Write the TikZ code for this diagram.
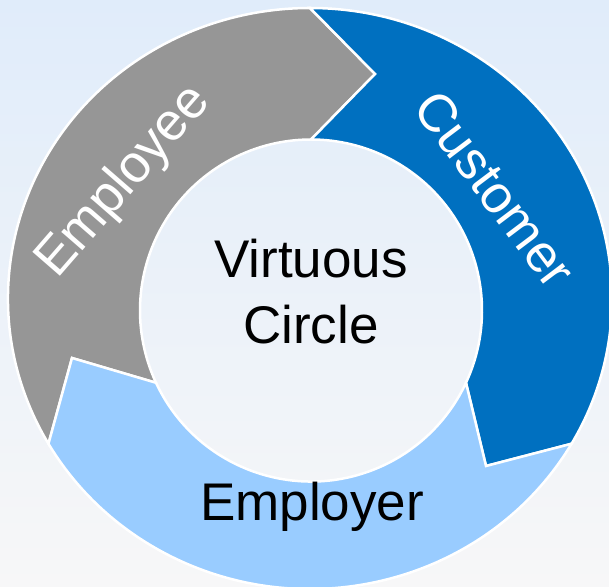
\documentclass[tikz,border=0pt]{standalone}
\usepackage{fontspec}
\setmainfont{Liberation Sans}
\usepackage{tikz}
\usetikzlibrary{calc}

\definecolor{cycgray}{RGB}{150,150,150}
\definecolor{cycblue}{RGB}{0,112,192}
\definecolor{cyclight}{RGB}{153,204,255}
\definecolor{bgtop}{RGB}{224,236,250}
\definecolor{bgbot}{RGB}{247,247,248}

\begin{document}
\begin{tikzpicture}[x=1pt,y=1pt,
    segment/.style={draw=white,line width=2.5pt,line join=miter},
    word/.style={font=\fontsize{53}{66}\selectfont,inner sep=0pt}]
  \useasboundingbox (0,0) rectangle (609,586);
  \shade[top color=bgtop,bottom color=bgbot] (0,0) rectangle (609,586);

  % centres of the ring (outer edge is a bit flattened)
  \coordinate (o) at (310,287.5);
  \coordinate (i) at (311,275.5);
  % arrow tips
  \coordinate (graytip) at (375,512);
  \coordinate (bluetip) at (486,120);
  \coordinate (lighttip) at (72,228);

  \filldraw[segment,fill=cycgray] ($(o)+(210:302 and 290.5)$)
    arc[start angle=210,end angle=90,x radius=302,y radius=290.5]
    -- (graytip) -- ($(i)+(90:171)$)
    arc[start angle=90,end angle=205,radius=171]
    -- (lighttip) -- cycle;
  \filldraw[segment,fill=cycblue] ($(o)+(90:302 and 290.5)$)
    arc[start angle=90,end angle=-30,x radius=302,y radius=290.5]
    -- (bluetip) -- ($(i)+(-25:171)$)
    arc[start angle=-25,end angle=90,radius=171]
    -- (graytip) -- cycle;
  \filldraw[segment,fill=cyclight] ($(o)+(-30:302 and 290.5)$)
    arc[start angle=-30,end angle=-150,x radius=302,y radius=290.5]
    -- (lighttip) -- ($(i)+(205:171)$)
    arc[start angle=205,end angle=335,radius=171]
    -- (bluetip) -- cycle;

  \node[word,align=center] (virtuous) at (311,294) {Virtuous\\Circle};
  \node[word,anchor=base] (employer) at (312,66) {Employer};
  \node[word,white,rotate=-53] (customer) at (495,397) {Customer};
  \node[word,white,rotate=49] (employee) at (124,404) {Employee};
\end{tikzpicture}
\end{document}
